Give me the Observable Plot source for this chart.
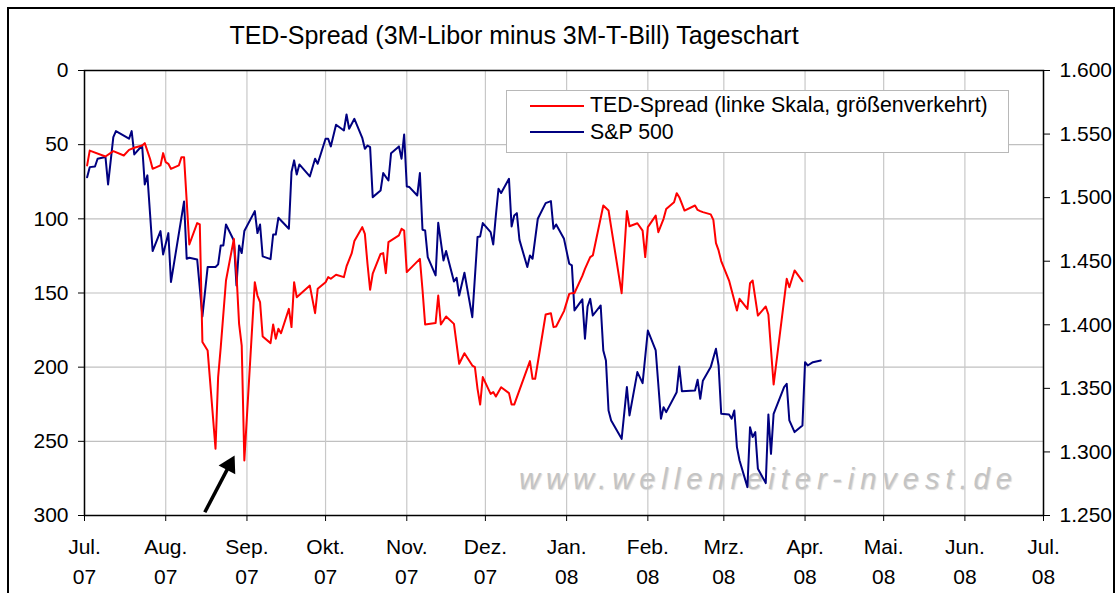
<!DOCTYPE html>
<html><head><meta charset="utf-8">
<script src="https://cdn.jsdelivr.net/npm/d3@7"></script>
<script src="https://cdn.jsdelivr.net/npm/@observablehq/plot@0.6"></script>
<style>
body{margin:0;background:#fff;font-family:"Liberation Sans",Arial,sans-serif;}
#wrap{position:relative;width:1115px;height:593px;overflow:hidden;background:#fff;}
#border{position:absolute;left:7px;top:7px;width:1104px;height:620px;border:2px solid #000;}
#title{position:absolute;left:0;width:1028px;top:23px;text-align:center;font-size:25px;line-height:25px;color:#000;}
#wm{position:absolute;left:519px;top:465px;font-size:29px;line-height:29px;font-style:italic;letter-spacing:6px;color:#c4c4c4;white-space:nowrap;text-shadow:1px 1px 1px #dadada;}
#chart{position:absolute;left:0;top:0;}
#legend{position:absolute;left:0;top:0;}
</style></head>
<body><div id="wrap">
<div id="border"></div>
<div id="title">TED-Spread (3M-Libor minus 3M-T-Bill) Tageschart</div>
<div id="wm">www.wellenreiter-invest.de</div>
<div id="chart"></div>
<svg id="legend" width="1115" height="593" font-family="Liberation Sans, Arial, sans-serif">
  <rect x="506.5" y="90.5" width="502" height="62" fill="#fff" stroke="#b8b8b8" stroke-width="1"></rect>
  <line x1="530" x2="584" y1="106" y2="106" stroke="#ff0000" stroke-width="2"></line>
  <line x1="530" x2="584" y1="132" y2="132" stroke="#000080" stroke-width="2"></line>
  <text id="lg1" x="590" y="112" font-size="21.3"></text>
  <text id="lg2" x="590" y="138.5" font-size="21.3"></text>
</svg>
</div>
<script>
// ---- data ----
const tedSeriesName = "TED-Spread (linke Skala, größenverkehrt)";
const spSeriesName = "S&P 500";

const tedDates = ["2007-07-02","2007-07-03","2007-07-09","2007-07-12","2007-07-16","2007-07-18","2007-07-20","2007-07-23","2007-07-24","2007-07-26","2007-07-27","2007-07-30","2007-07-31","2007-08-01","2007-08-02","2007-08-03","2007-08-06","2007-08-07","2007-08-08","2007-08-10","2007-08-13","2007-08-14","2007-08-15","2007-08-17","2007-08-20","2007-08-21","2007-08-22","2007-08-24","2007-08-27","2007-08-28","2007-08-29","2007-08-30","2007-08-31","2007-09-04","2007-09-05","2007-09-06","2007-09-07","2007-09-10","2007-09-11","2007-09-12","2007-09-13","2007-09-14","2007-09-17","2007-09-18","2007-09-19","2007-09-20","2007-09-25","2007-09-27","2007-09-28","2007-10-01","2007-10-02","2007-10-03","2007-10-05","2007-10-08","2007-10-09","2007-10-11","2007-10-12","2007-10-15","2007-10-16","2007-10-17","2007-10-18","2007-10-19","2007-10-22","2007-10-23","2007-10-24","2007-10-25","2007-10-29","2007-10-30","2007-10-31","2007-11-01","2007-11-06","2007-11-07","2007-11-08","2007-11-12","2007-11-13","2007-11-14","2007-11-16","2007-11-19","2007-11-21","2007-11-23","2007-11-26","2007-11-27","2007-11-28","2007-11-29","2007-11-30","2007-12-03","2007-12-04","2007-12-05","2007-12-07","2007-12-10","2007-12-11","2007-12-12","2007-12-18","2007-12-19","2007-12-20","2007-12-24","2007-12-26","2007-12-27","2007-12-28","2007-12-31","2008-01-02","2008-01-03","2008-01-04","2008-01-07","2008-01-08","2008-01-10","2008-01-11","2008-01-15","2008-01-17","2008-01-18","2008-01-22","2008-01-24","2008-01-25","2008-01-28","2008-01-30","2008-01-31","2008-02-01","2008-02-04","2008-02-05","2008-02-07","2008-02-08","2008-02-11","2008-02-12","2008-02-13","2008-02-15","2008-02-19","2008-02-20","2008-02-21","2008-02-22","2008-02-25","2008-02-26","2008-02-27","2008-02-28","2008-02-29","2008-03-03","2008-03-04","2008-03-06","2008-03-07","2008-03-10","2008-03-11","2008-03-12","2008-03-14","2008-03-17","2008-03-18","2008-03-20","2008-03-25","2008-03-26","2008-03-28","2008-03-31"];
const tedValues = [64,54,58,54.4,57.3,53.5,52.1,50.6,49,59.5,66.3,64,55.7,61.8,62.9,66.3,64,58.4,58.4,117.3,102.9,103.8,183,188.8,255,206.7,186.5,141.6,113.5,137.1,170.8,185.4,262.9,142.7,151.7,156.2,179.3,183.8,171.2,180.9,174.1,177.1,160.7,173,142.7,152.8,145,163.6,147.2,142.7,139.3,140.4,137.7,139.3,132.1,123.1,115,105.6,110.1,130.3,147.8,137,123.6,123.1,136.6,115.7,111.2,106.7,107.9,135.9,127,147.8,171.2,170.3,151.7,171.2,165.8,170.8,197.7,190.6,198.9,200,214.6,225.2,206.7,218,216.8,219.8,213.5,217.5,225.2,225.2,195.9,207.8,207.8,164.5,163.6,173,172.6,162.2,150.6,150.1,150,138.5,133.7,125.8,124.7,91,94.4,105.6,150.1,94.8,105,103,108,125.8,105.6,97.8,109,100,93.3,88.8,82.7,85.4,94.4,91,94,94.8,95.5,97,100.7,116.4,121.3,128.5,141.6,148.3,161.8,153.9,160.7,143.4,141.6,165.2,159.1,164.5,211.7,140.4,146.1,134.8,142];

const spDates = ["2007-07-02","2007-07-03","2007-07-05","2007-07-06","2007-07-09","2007-07-10","2007-07-12","2007-07-13","2007-07-17","2007-07-18","2007-07-19","2007-07-20","2007-07-23","2007-07-24","2007-07-25","2007-07-27","2007-07-30","2007-07-31","2007-08-02","2007-08-03","2007-08-08","2007-08-09","2007-08-10","2007-08-13","2007-08-15","2007-08-17","2007-08-20","2007-08-21","2007-08-22","2007-08-23","2007-08-24","2007-08-27","2007-08-28","2007-08-29","2007-08-30","2007-08-31","2007-09-04","2007-09-05","2007-09-06","2007-09-07","2007-09-10","2007-09-11","2007-09-12","2007-09-13","2007-09-17","2007-09-18","2007-09-19","2007-09-20","2007-09-21","2007-09-25","2007-09-27","2007-09-28","2007-10-01","2007-10-02","2007-10-03","2007-10-05","2007-10-08","2007-10-09","2007-10-10","2007-10-12","2007-10-15","2007-10-16","2007-10-17","2007-10-18","2007-10-19","2007-10-22","2007-10-23","2007-10-25","2007-10-26","2007-10-29","2007-10-30","2007-10-31","2007-11-01","2007-11-02","2007-11-05","2007-11-06","2007-11-07","2007-11-08","2007-11-09","2007-11-12","2007-11-13","2007-11-15","2007-11-16","2007-11-19","2007-11-20","2007-11-21","2007-11-23","2007-11-26","2007-11-28","2007-11-29","2007-11-30","2007-12-03","2007-12-04","2007-12-05","2007-12-06","2007-12-07","2007-12-10","2007-12-11","2007-12-12","2007-12-13","2007-12-14","2007-12-17","2007-12-18","2007-12-19","2007-12-21","2007-12-24","2007-12-26","2007-12-27","2007-12-28","2007-12-31","2008-01-02","2008-01-03","2008-01-04","2008-01-07","2008-01-08","2008-01-09","2008-01-10","2008-01-11","2008-01-14","2008-01-15","2008-01-16","2008-01-17","2008-01-18","2008-01-22","2008-01-24","2008-01-25","2008-01-28","2008-01-30","2008-02-01","2008-02-04","2008-02-06","2008-02-07","2008-02-08","2008-02-12","2008-02-13","2008-02-14","2008-02-19","2008-02-20","2008-02-21","2008-02-22","2008-02-25","2008-02-27","2008-02-28","2008-02-29","2008-03-03","2008-03-04","2008-03-05","2008-03-06","2008-03-07","2008-03-10","2008-03-11","2008-03-12","2008-03-13","2008-03-14","2008-03-17","2008-03-18","2008-03-19","2008-03-20","2008-03-24","2008-03-25","2008-03-26","2008-03-28","2008-03-31","2008-04-01","2008-04-02","2008-04-04","2008-04-07"];
const spValues = [1516,1524,1524.5,1530.6,1532,1510.4,1547.6,1552.3,1547.6,1546.3,1552.3,1534,1541,1510.4,1517.5,1458,1473.7,1455.3,1472.1,1433.6,1497,1451.9,1452.7,1451.4,1406.6,1445.4,1445.4,1447.5,1462.4,1462.4,1478.9,1466.3,1430.9,1462.4,1456.4,1473.7,1489.4,1472.1,1478.9,1453.8,1451.6,1471,1471,1484.2,1475.5,1520.1,1529.3,1518.2,1526.1,1516.7,1530.6,1526.6,1546.3,1546.3,1540.3,1557.3,1552.8,1565.4,1554.2,1562,1547.1,1538.4,1541,1539.7,1500.4,1505.6,1519.3,1513.5,1535,1540.3,1530.6,1549.7,1508.8,1508.3,1501.7,1519.3,1474.7,1474.2,1453.2,1438.8,1480.2,1450.6,1458,1434,1437,1423,1440.9,1406,1469,1469.5,1480,1472.9,1463.2,1486,1507,1503.6,1514.8,1477.3,1486,1487.8,1466.8,1445.4,1454.5,1451.9,1483.4,1495.7,1497.3,1475.5,1478.9,1467.6,1448,1446.7,1411.3,1420,1389,1414.4,1420.4,1407.3,1415.2,1379.8,1372,1332.6,1324.8,1310.3,1351,1328.7,1362.8,1354.1,1395.5,1379.8,1326.1,1335.2,1331.3,1347,1367.2,1347.8,1348.3,1356.7,1341.8,1356,1366.7,1381.1,1368,1330,1329.5,1326.1,1332.6,1303.8,1293.3,1272.3,1319.5,1311.7,1315.6,1286.7,1275.5,1329.5,1298.5,1330,1351,1353.6,1324.8,1315.6,1320.8,1370.6,1368,1370.6,1371.9];

const tickDates = ["2007-07-01","2007-08-01","2007-09-01","2007-10-01","2007-11-01","2007-12-01","2008-01-01","2008-02-01","2008-03-01","2008-04-01","2008-05-01","2008-06-01","2008-07-01"];
const monthLabels = ["Jul.","Aug.","Sep.","Okt.","Nov.","Dez.","Jan.","Feb.","Mrz.","Apr.","Mai.","Jun.","Jul."];
const yearLabels = ["07","07","07","07","07","07","08","08","08","08","08","08","08"];
const tedTicks = [0,50,100,150,200,250,300];
const spTicks = [1250,1300,1350,1400,1450,1500,1550,1600];

// annotation arrow (date, TED value)
const arrowDates = ["2007-08-15T22:00Z","2007-08-25T08:00Z"];
const arrowValues = [297.8,266.0];

// ---- build ----
const tedMin = 0, tedMax = 300, spMin = 1250, spMax = 1600;
const spToTed = v => (spMax - v) / (spMax - spMin) * (tedMax - tedMin);
const tedToSp = v => Math.round(spMax - v * (spMax - spMin) / (tedMax - tedMin));
const fmtSP = v => d3.format(",")(v).replace(/,/g, ".");

const ted = tedDates.map((d, i) => ({date: new Date(d), value: tedValues[i]}));
const sp = spDates.map((d, i) => ({date: new Date(d), value: spValues[i]}));
const ticks = tickDates.map(d => new Date(d));
const tickIndex = d => (d.getUTCFullYear() - 2007) * 12 + d.getUTCMonth() - 6;
const arrowTail = {date: new Date(arrowDates[0]), value: arrowValues[0]};
const arrowHead = {date: new Date(arrowDates[1]), value: arrowValues[1]};

document.getElementById("lg1").textContent = tedSeriesName;
document.getElementById("lg2").textContent = spSeriesName;

const chart = Plot.plot({
  width: 1115,
  height: 593,
  marginLeft: 84,
  marginRight: 72,
  marginTop: 70,
  marginBottom: 78,
  style: {background: "transparent", fontFamily: "Liberation Sans, Arial, sans-serif", fontSize: "21px", color: "#000", overflow: "visible"},
  x: {type: "utc", domain: [ticks[0], ticks[ticks.length - 1]]},
  y: {domain: [tedMin, tedMax], reverse: true},
  marks: [
    Plot.gridY(tedTicks, {stroke: "#c0c0c0", strokeOpacity: 1, strokeWidth: 1.2}),
    Plot.gridX(ticks, {stroke: "#c8c8c8", strokeOpacity: 1, strokeWidth: 1.2}),
    Plot.line(sp, {x: "date", y: d => spToTed(d.value), stroke: "#000080", strokeWidth: 2}),
    Plot.line(ted, {x: "date", y: "value", stroke: "#ff0000", strokeWidth: 2}),
    Plot.link([{a: arrowTail, b: arrowHead}], {x1: d => d.a.date, y1: d => d.a.value, x2: d => d.b.date, y2: d => d.b.value, stroke: "#000", strokeWidth: 3.5}),
    Plot.dot([arrowHead], {x: "date", y: "value", symbol: "triangle", r: 7, fill: "#000", stroke: null, rotate: 28}),
    Plot.frame({stroke: "#000", strokeWidth: 1.5}),
    Plot.axisY(tedTicks, {anchor: "left", tickSize: 6, tickPadding: 10, label: null, fontSize: 21, stroke: "#000"}),
    Plot.axisY(spTicks.map(spToTed), {anchor: "right", tickSize: 6, tickPadding: 10, label: null, fontSize: 21, tickFormat: v => fmtSP(tedToSp(v))}),
    Plot.axisX(ticks, {anchor: "bottom", tickSize: 6, tickPadding: 11, label: null, fontSize: 21, lineHeight: 1.43, tickFormat: d => monthLabels[tickIndex(d)] + "\n" + yearLabels[tickIndex(d)]})
  ]
});
document.getElementById("chart").appendChild(chart);
</script>
</body></html>
